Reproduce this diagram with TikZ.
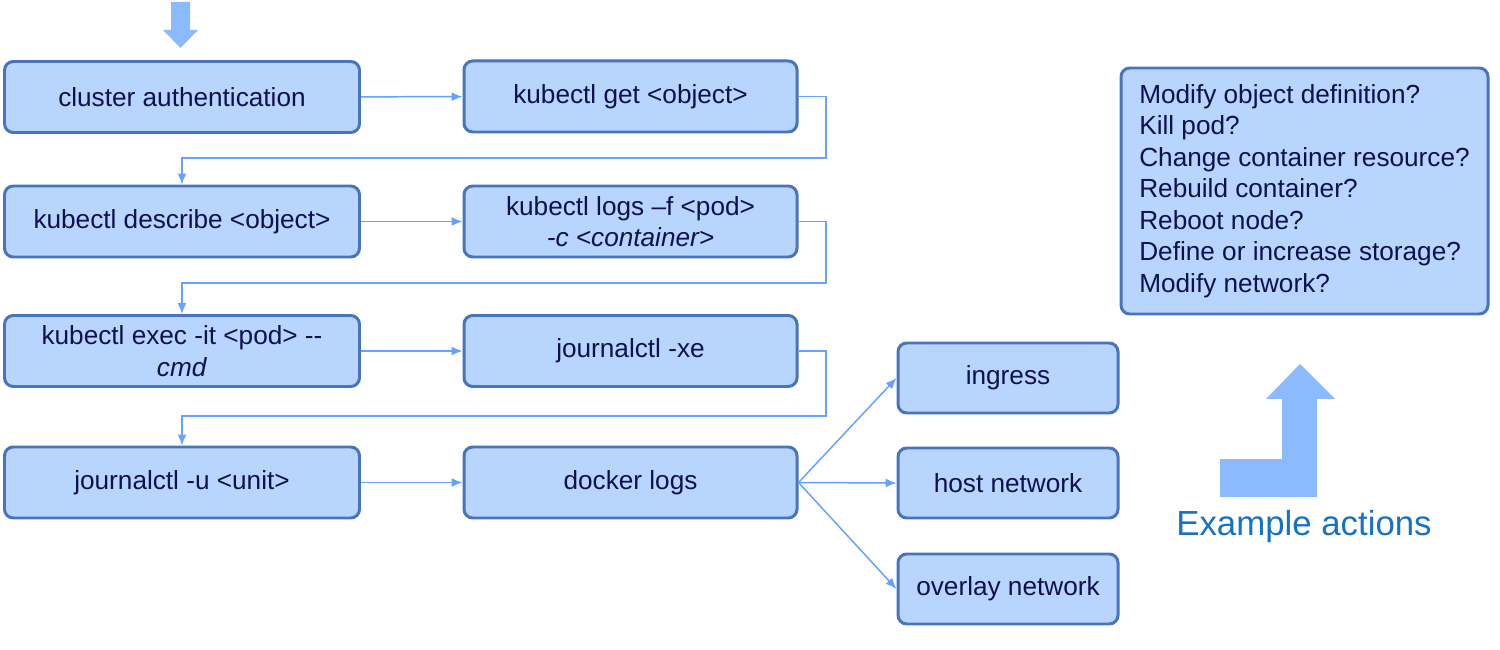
\documentclass[tikz,border=0pt]{standalone}
\usepackage{fontspec}
\setmainfont{Liberation Sans}
\usetikzlibrary{arrows.meta,positioning,calc}
\definecolor{kfill}{RGB}{184,213,253}
\definecolor{kline}{RGB}{72,116,190}
\definecolor{ktext}{RGB}{14,16,82}
\definecolor{klink}{RGB}{102,162,255}
\definecolor{kblock}{RGB}{140,186,255}
\definecolor{ktitle}{RGB}{22,114,196}
\tikzset{
  kbox/.style={draw=kline,fill=kfill,line width=1.7pt,rounded corners=5pt,
    minimum height=1.42cm,inner sep=2pt,align=center,text=ktext},
  wide/.style={kbox,minimum width=7.1cm},
  mid/.style={kbox,minimum width=6.66cm},
  narrow/.style={kbox,minimum width=4.4cm,minimum height=1.4cm},
  link/.style={draw=klink,line width=0.85pt,-{Latex[length=2.2mm,width=1.8mm]}},
  bigarr/.style={fill=kblock},
}

\begin{document}
\begin{tikzpicture}[font=\fontsize{14.9}{17.9}\selectfont]
  \useasboundingbox (0,0) rectangle (30,-13);
  \node[wide] (auth) at (3.64,-1.94) {cluster authentication};
  \node[mid] (get) at (12.61,-1.93) {kubectl get <object>};
  \node[wide] (describe) at (3.64,-4.43) {kubectl describe <object>};
  \node[mid] (logs) at (12.61,-4.43) {kubectl logs –f <pod>\\ \textit{-c <container>}};
  \node[wide] (exec) at (3.64,-7.02) {kubectl exec -it <pod> -{}-\\ \textit{cmd}};
  \node[mid] (jxe) at (12.61,-7.02) {journalctl -xe};
  \node[wide] (junit) at (3.64,-9.65) {journalctl -u <unit>};
  \node[mid] (docker) at (12.61,-9.65) {docker logs};
  \node[narrow] (ingress) at (20.16,-7.56) {ingress};
  \node[narrow] (host) at (20.16,-9.66) {host network};
  \node[narrow] (overlay) at (20.16,-11.78) {overlay network};
  \node[kbox,minimum width=7.34cm,minimum height=4.92cm,align=left,inner sep=8pt]
    (actions) at (26.09,-3.82)
    {Modify object definition?\\ Kill pod?\\ Change container resource?\\
     Rebuild container?\\ Reboot node?\\ Define or increase storage?\\ Modify network?};
  \node[text=ktitle,font=\fontsize{19.8}{24}\selectfont] (title) at (26.08,-10.54)
    {Example actions};

  \coordinate (b1) at (16.52,-3.16);
  \coordinate (b2) at (16.52,-5.66);
  \coordinate (b3) at (16.52,-8.32);

  \draw[link] (auth) -- (get);
  \draw[link] (describe) -- (logs);
  \draw[link] (exec) -- (jxe);
  \draw[link] (junit) -- (docker);
  \draw[link] (get.east) -| (b1) -| (describe.north);
  \draw[link] (logs.east) -| (b2) -| (exec.north);
  \draw[link] (jxe.east) -| (b3) -| (junit.north);
  \draw[link] (docker.east) -- (ingress.west);
  \draw[link] (docker.east) -- (host.west);
  \draw[link] (docker.east) -- (overlay.west);

  \fill[bigarr] (3.42,-0.04) -- (3.8,-0.04) -- (3.8,-0.6) -- (3.96,-0.6)
    -- (3.61,-0.96) -- (3.26,-0.6) -- (3.42,-0.6) -- cycle;
  \fill[bigarr] (24.4,-9.94) -- (26.34,-9.94) -- (26.34,-7.98) -- (26.7,-7.98)
    -- (26.0,-7.28) -- (25.32,-7.98) -- (25.64,-7.98) -- (25.64,-9.18)
    -- (24.4,-9.18) -- cycle;
\end{tikzpicture}
\end{document}
